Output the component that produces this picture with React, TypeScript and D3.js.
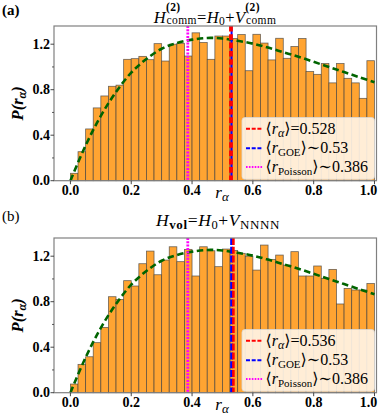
import React from 'react';
import * as d3 from 'd3';

// ---------- data ----------
const binLefts = [
  0, 0.025, 0.05, 0.075, 0.1, 0.125, 0.15, 0.175, 0.2, 0.225,
  0.25, 0.275, 0.3, 0.325, 0.35, 0.375, 0.4, 0.425, 0.45, 0.475,
  0.5, 0.525, 0.55, 0.575, 0.6, 0.625, 0.65, 0.675, 0.7, 0.725,
  0.75, 0.775, 0.8, 0.825, 0.85, 0.875, 0.9, 0.925, 0.95, 0.975,
];
const binWidth = 0.025;

const commHist = [
  0.065, 0.255, 0.455, 0.64, 0.745, 0.83, 0.84, 1.067, 1.073, 1.093,
  1.064, 1.205, 1.052, 1.2, 1.208, 1.096, 1.3, 1.215, 1.067, 1.272,
  1.272, 1.25, 1.285, 0.967, 1.287, 1.21, 1.062, 1.252, 1.076, 1.18,
  1.25, 0.96, 0.935, 1.03, 0.86, 1.03, 0.9, 0.86, 0.724, 1.055,
];

const volHist = [
  0.076, 0.249, 0.316, 0.44, 0.574, 0.844, 0.82, 0.985, 0.938, 1.134,
  1.245, 1.037, 1.166, 1.283, 1.152, 1.26, 1.026, 1.283, 1.248, 1.108,
  1.263, 1.25, 1.225, 1.2, 1.078, 1.298, 1.172, 1.21, 1.122, 1.24,
  1.026, 1.026, 1.114, 1.005, 1.084, 0.78, 0.917, 0.903, 0.903, 0.96,
];

// GOE surmise curve
const surmiseR = [0, 0.05, 0.1, 0.15, 0.2, 0.25, 0.3, 0.35, 0.4, 0.45, 0.5,
  0.55, 0.6, 0.65, 0.7, 0.75, 0.8, 0.85, 0.9, 0.95, 1.0];
const surmiseP = [0, 0.31, 0.57, 0.78, 0.95, 1.07, 1.16, 1.21, 1.24, 1.255, 1.25,
  1.23, 1.205, 1.17, 1.13, 1.09, 1.045, 1.0, 0.955, 0.91, 0.866];

const meanRComm = 0.528;
const meanRVol = 0.536;
const rGOE = 0.53;
const rPoisson = 0.386;
const meanRCommLabel = '0.528';
const meanRVolLabel = '0.536';
const rGOELabel = '0.53';
const rPoissonLabel = '0.386';

const xTicks = [0, 0.2, 0.4, 0.6, 0.8, 1.0];
const xTickLabels = ['0.0', '0.2', '0.4', '0.6', '0.8', '1.0'];
const yTicks = [0, 0.4, 0.8, 1.2];
const yTickLabels = ['0.0', '0.4', '0.8', '1.2'];
const yMinorTicks = [0.2, 0.6, 1.0];

// ---------- layout ----------
const W = 378;
const H = 416;
const FONT = "'Liberation Serif', 'DejaVu Serif', serif";
const X_LEFT = 54;
const X_RIGHT = 376.5;
const Y_TOP = 26;
const Y_BASE = 180.7;
const PANEL_SHIFT = 212;

const xScale = d3.scaleLinear().domain([-0.054, 1.0066]).range([X_LEFT, X_RIGHT]);

type PanelProps = {
  off: number;
  hist: number[];
  meanR: number;
  meanLabel: string;
  split: boolean;
};

function Panel({ off, hist, meanR, meanLabel, split }: PanelProps) {
  const y = d3.scaleLinear().domain([0, 1.36]).range([Y_BASE + off, Y_TOP + off]);
  const line = d3
    .line<number>()
    .x((_, i) => xScale(surmiseR[i]))
    .y((d) => y(d))
    .curve(d3.curveCatmullRom);
  const top = Y_TOP + off;
  const base = Y_BASE + off;
  const lx = 242;
  const ly = 117.5 + off;
  const rows = [128.7 + off, 148.3 + off, 167 + off];
  return (
    <g>
      {hist.map((v, i) => (
        <rect
          key={i}
          x={xScale(binLefts[i])}
          y={y(v)}
          width={xScale(binLefts[i] + binWidth) - xScale(binLefts[i])}
          height={y(0) - y(v)}
          fill="#FFA432"
          stroke="#3d3d3d"
          strokeOpacity={0.75}
          strokeWidth={0.8}
        />
      ))}
      <path
        d={line(surmiseP) || ''}
        fill="none"
        stroke="#006400"
        strokeWidth={2.6}
        strokeDasharray="6.5 3.5"
      />
      {/* vertical reference lines */}
      <line x1={xScale(rPoisson)} x2={xScale(rPoisson)} y1={top} y2={base}
        stroke="#FF00FF" strokeWidth={2.8} strokeDasharray="2 1.3" />
      {split ? (
        <>
          <line x1={xScale(rGOE)} x2={xScale(rGOE)} y1={top} y2={base}
            stroke="#0000FF" strokeWidth={2.8} strokeDasharray="7 1.8" />
          <line x1={xScale(meanR)} x2={xScale(meanR)} y1={top} y2={base}
            stroke="#FF0000" strokeWidth={2.6} strokeDasharray="7 1.8" />
        </>
      ) : (
        <>
          <line x1={xScale(rGOE)} x2={xScale(rGOE)} y1={top} y2={base}
            stroke="#0000FF" strokeWidth={2} />
          <line x1={xScale(meanR)} x2={xScale(meanR)} y1={top} y2={base}
            stroke="#FF0000" strokeWidth={3.8} strokeDasharray="5.6 2.7" />
        </>
      )}
      {/* legend */}
      <rect x={lx} y={ly} width={374.5 - lx} height={179.3 + off - ly} rx={3}
        fill="#FFF5E8" fillOpacity={0.9} stroke="#d8d8d8" strokeWidth={0.8} />
      <line x1={246} x2={263} y1={rows[0]} y2={rows[0]} stroke="#FF0000" strokeWidth={2} strokeDasharray="4 1.7" />
      <line x1={246} x2={263} y1={rows[1]} y2={rows[1]} stroke="#0000FF" strokeWidth={2} strokeDasharray="4 1.7" />
      <line x1={246} x2={263} y1={rows[2]} y2={rows[2]} stroke="#FF00FF" strokeWidth={2} strokeDasharray="1.6 1.3" />
      <g fontFamily={FONT} fontSize={16} fill="#000">
        <text x={265.5} y={rows[0] + 4.8}>
          ⟨<tspan fontStyle="italic">r</tspan>
          <tspan fontStyle="italic" fontSize={12} dy={3}>α</tspan>
          <tspan dy={-3}>⟩=</tspan>{meanLabel}
        </text>
        <text x={265.5} y={rows[1] + 4.8}>
          ⟨<tspan fontStyle="italic">r</tspan>
          <tspan fontSize={11} dy={3}>GOE</tspan>
          <tspan dy={-3}>⟩∼{rGOELabel}</tspan>
        </text>
        <text x={265.5} y={rows[2] + 4.8}>
          ⟨<tspan fontStyle="italic">r</tspan>
          <tspan fontSize={11} dy={3}>Poisson</tspan>
          <tspan dy={-3}>⟩∼{rPoissonLabel}</tspan>
        </text>
      </g>
      {/* frame */}
      <rect x={X_LEFT} y={top} width={X_RIGHT - X_LEFT} height={base - top}
        fill="none" stroke="#808080" strokeWidth={1.2} />
      {/* y ticks */}
      {yTicks.map((t, i) => (
        <g key={'yt' + i}>
          <line x1={X_LEFT - 3.5} x2={X_LEFT} y1={y(t)} y2={y(t)} stroke="#333" strokeWidth={0.9} />
          <text x={50} y={y(t) + 4.6} textAnchor="end" fontFamily={FONT}
            fontWeight="bold" fontSize={14}>{yTickLabels[i]}</text>
        </g>
      ))}
      {yMinorTicks.map((t, i) => (
        <line key={'ym' + i} x1={X_LEFT - 2} x2={X_LEFT} y1={y(t)} y2={y(t)} stroke="#333" strokeWidth={0.8} />
      ))}
      {/* x ticks */}
      {xTicks.map((t, i) => (
        <g key={'xt' + i}>
          <line x1={xScale(t)} x2={xScale(t)} y1={base} y2={base + 3.5} stroke="#333" strokeWidth={0.9} />
          <text x={Math.min(xScale(t), 368.5)} y={base + 14.5} textAnchor="middle" fontFamily={FONT}
            fontWeight="bold" fontSize={14}>{xTickLabels[i]}</text>
        </g>
      ))}
      {/* axis labels */}
      <text x={222} y={base + 17} textAnchor="middle" fontFamily={FONT} fontSize={17}>
        <tspan fontStyle="italic">r</tspan>
        <tspan fontStyle="italic" fontSize={13} dy={3.5}>α</tspan>
      </text>
      <text transform={`translate(23, ${(top + base) / 2}) rotate(-90)`} textAnchor="middle"
        fontFamily={FONT} fontSize={16.5} fontWeight="bold" fontStyle="italic">
        P(r<tspan fontSize={12} dy={3}>α</tspan><tspan dy={-3}>)</tspan>
      </text>
    </g>
  );
}

export default function App() {
  return (
    <svg width={W} height={H} viewBox={`0 0 ${W} ${H}`}
      style={{ position: 'absolute', left: 0, top: 0, background: '#fff' }}>
      <rect x={0} y={0} width={W} height={H} fill="#fff" />
      {/* panel labels */}
      <text x={2} y={15} fontFamily={FONT} fontWeight="bold" fontSize={15}>(a)</text>
      <text x={2} y={220.5} fontFamily={FONT} fontSize={15}>(b)</text>
      {/* titles */}
      <text x={215} y={22.7} textAnchor="middle" fontFamily={FONT} fontSize={16.5} letterSpacing={0.4}>
        <tspan fontStyle="italic">H</tspan>
        <tspan fontSize={11.5} fontWeight="bold" dy={-12}>(2)</tspan>
        <tspan fontSize={11.5} dx={-14} dy={13.5}>comm</tspan>
        <tspan dy={-1.5}>=</tspan>
        <tspan fontStyle="italic">H</tspan>
        <tspan fontSize={11.5} dy={2}>0</tspan>
        <tspan dy={-2}>+</tspan>
        <tspan fontStyle="italic">V</tspan>
        <tspan fontSize={11.5} fontWeight="bold" dy={-12}>(2)</tspan>
        <tspan fontSize={11.5} dx={-14} dy={13.5}>comm</tspan>
      </text>
      <text x={218} y={226} textAnchor="middle" fontFamily={FONT} fontSize={17.5} letterSpacing={0.6}>
        <tspan fontStyle="italic">H</tspan>
        <tspan fontSize={13} fontWeight="bold" dy={2.5}>vol</tspan>
        <tspan dy={-2.5}>=</tspan>
        <tspan fontStyle="italic">H</tspan>
        <tspan fontSize={12.5} dy={2.5}>0</tspan>
        <tspan dy={-2.5}>+</tspan>
        <tspan fontStyle="italic">V</tspan>
        <tspan fontSize={13} dy={2.5}>NNNN</tspan>
      </text>
      <Panel off={0} hist={commHist} meanR={meanRComm} meanLabel={meanRCommLabel} split={false} />
      <Panel off={PANEL_SHIFT} hist={volHist} meanR={meanRVol} meanLabel={meanRVolLabel} split={true} />
    </svg>
  );
}
